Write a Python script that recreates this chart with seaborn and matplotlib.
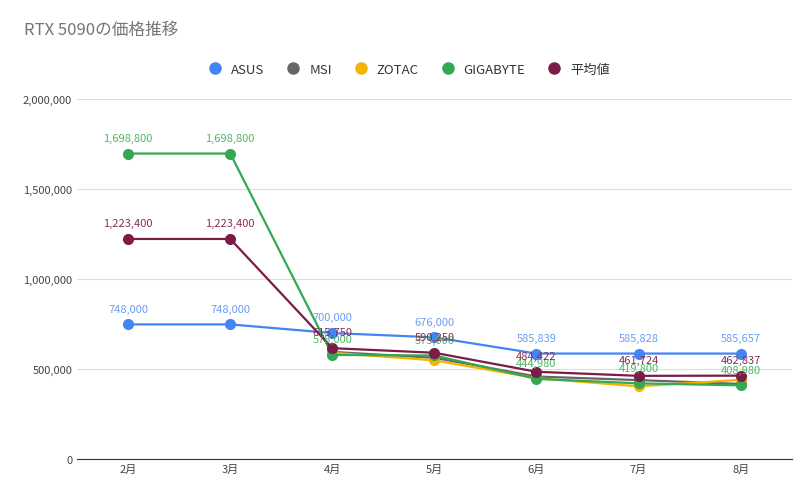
import numpy as np
import pandas as pd
import seaborn as sns
import matplotlib.pyplot as plt
from matplotlib.ticker import FuncFormatter

plt.rcParams["font.family"] = "Noto Sans CJK JP"

months = ["2月", "3月", "4月", "5月", "6月", "7月", "8月"]
asus = [748000, 748000, 700000, 676000, 585839, 585828, 585657]
msi = [np.nan, np.nan, 595000, 562000, 458000, 438000, 416711]
zotac = [np.nan, np.nan, 590000, 548000, 448869, 403268, 440000]
gigabyte = [1698800, 1698800, 578000, 575000, 444980, 419800, 408980]
average = [1223400, 1223400, 615750, 590250, 484422, 461724, 462837]

series = {"ASUS": asus, "MSI": msi, "ZOTAC": zotac, "GIGABYTE": gigabyte, "平均値": average}
colors = {"ASUS": "#4285F4", "MSI": "#666666", "ZOTAC": "#F4B400",
          "GIGABYTE": "#34A853", "平均値": "#7B1C47"}
label_colors = {"ASUS": "#6A9EF5", "GIGABYTE": "#4CB866", "平均値": "#8A2E55"}

df = pd.DataFrame(series, index=months).reset_index(names="month")
long = df.melt(id_vars="month", var_name="brand", value_name="price")

fig, ax = plt.subplots(figsize=(8.12, 5.02), dpi=100)
fig.subplots_adjust(left=0.095, right=0.975, top=0.80, bottom=0.084)

sns.lineplot(data=long, x="month", y="price", hue="brand", palette=colors,
             marker="o", markersize=8, markeredgewidth=0, linewidth=1.6,
             sort=False, ax=ax, legend=False)

x = np.arange(len(months))
for name, lc in label_colors.items():
    for xi, v in zip(x, series[name]):
        ax.text(xi, v + 60000, f"{v:,.0f}", ha="center", va="bottom",
                fontsize=8, color=lc)

ax.set_ylim(0, 2000000)
ax.set_yticks([0, 500000, 1000000, 1500000, 2000000])
ax.yaxis.set_major_formatter(FuncFormatter(lambda v, p: f"{v:,.0f}"))
ax.set_xlim(-0.5, len(months) - 0.5)
ax.grid(axis="y", color="#dddddd", linewidth=0.8)
ax.set_axisbelow(True)
for s in ["top", "right", "left"]:
    ax.spines[s].set_visible(False)
ax.spines["bottom"].set_color("#333333")
ax.tick_params(length=0, labelsize=8, colors="#444444")
ax.set_xlabel("")
ax.set_ylabel("")

handles = [plt.Line2D([], [], marker="o", linestyle="", color=c, markersize=8)
           for c in colors.values()]
fig.legend(handles, list(colors.keys()), loc="center", bbox_to_anchor=(0.5, 0.86),
           ncol=5, frameon=False, fontsize=9.5, handletextpad=0.2, columnspacing=1.2,
           labelcolor="#333333")
fig.text(0.03, 0.93, "RTX 5090の価格推移", fontsize=12, color="#757575")

fig.savefig("out.png", dpi=100)
